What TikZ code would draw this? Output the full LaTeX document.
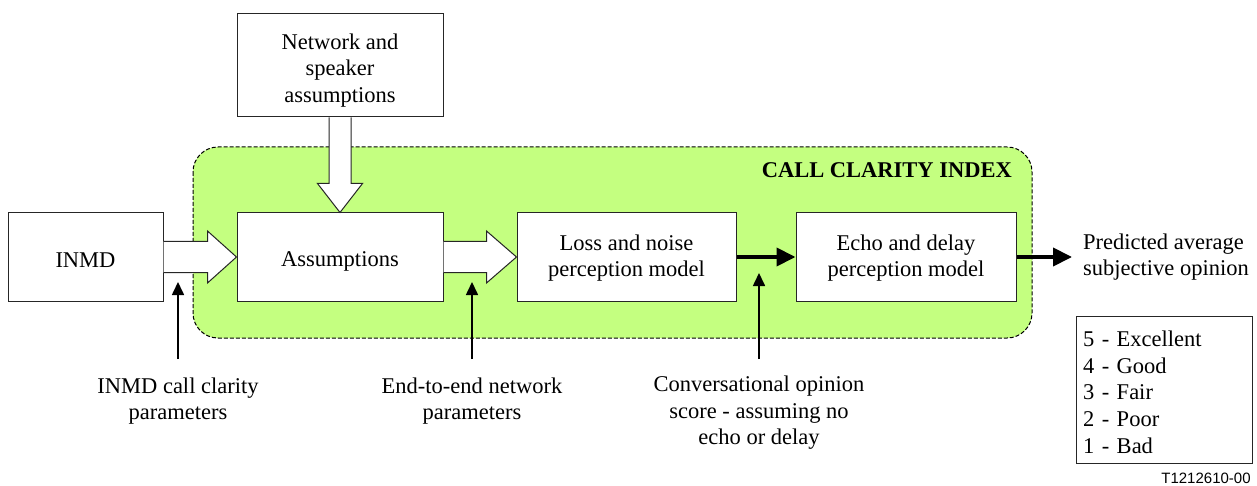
\documentclass[tikz,border=0pt]{standalone}
\usepackage{fontspec}
\setmainfont{Liberation Serif}
\setsansfont{Liberation Sans}
\usetikzlibrary{arrows.meta,calc}
\definecolor{ccigreen}{RGB}{196,255,128}
\newcommand{\lift}[1]{\rule{0pt}{#1pt}}
\begin{document}
\begin{tikzpicture}[x=1pt,y=-1pt,
  every node/.style={font=\fontsize{22.5}{26.5}\selectfont},
  box/.style={draw=black!85, line width=1pt, fill=white, inner sep=0pt, align=center},
  blockarrow/.style={draw=black!85, line width=1pt, fill=white, line join=miter},
  thickarrow/.style={line width=4pt, -{Triangle[length=19pt,width=18pt]}},
  thinarrow/.style={line width=1.6pt, -{Triangle[length=13pt,width=12pt]}},
  lbl/.style={align=center, inner sep=0pt}]
\useasboundingbox (0,0) rectangle (1257,486);

% region
\draw[fill=ccigreen, dash pattern=on 4pt off 2pt, line width=1pt, rounded corners=25pt]
  (193,147) rectangle (1032,338);
\node[anchor=base east, inner sep=0pt, font=\fontsize{22.5}{26.5}\selectfont\bfseries] (cci) at (1012,178) {CALL CLARITY INDEX};

% boxes
\node[box, minimum width=206pt, minimum height=103pt] (net) at (340,65.5) {\lift{25}Network and\\speaker\\assumptions};
\node[box, minimum width=206pt, minimum height=88pt] (assump) at (340,257) {\lift{23}Assumptions};
\node[box, minimum width=155pt, minimum height=88pt] (inmd) at (85.5,257) {\lift{21}INMD};
\node[box, minimum width=219pt, minimum height=88pt] (loss) at (626.5,257) {\lift{18}Loss and noise\\perception model};
\node[box, minimum width=220pt, minimum height=88pt] (echo) at (906,257) {\lift{18}Echo and delay\\perception model};

\node[anchor=west, inner xsep=11pt, inner ysep=0pt, align=left] (pred) at (1072,257) {Predicted average\\subjective opinion};

\node[draw=black!85, line width=1pt, minimum width=176pt, minimum height=147pt, text width=162pt,
  align=left, inner xsep=7pt, font=\fontsize{22.5}{26.7}\selectfont] (legend) at (1164,389.5)
  {\lift{21}5 - Excellent\\4 - Good\\3 - Fair\\2 - Poor\\1 - Bad};

\node[inner sep=0pt, font=\fontsize{15}{17}\sffamily] (code) at (1206,478) {T1212610-00};

% block arrows
\draw[blockarrow] ($(inmd.east)+(0,-15.5)$) -- ($(assump.west)+(-29,-15.5)$) -- ($(assump.west)+(-29,-26)$)
  -- (assump.west) -- ($(assump.west)+(-29,26)$) -- ($(assump.west)+(-29,15.5)$) -- ($(inmd.east)+(0,15.5)$);
\draw[blockarrow] ($(assump.east)+(0,-15.5)$) -- ($(loss.west)+(-30,-15.5)$) -- ($(loss.west)+(-30,-26)$)
  -- (loss.west) -- ($(loss.west)+(-30,26)$) -- ($(loss.west)+(-30,15.5)$) -- ($(assump.east)+(0,15.5)$);
\draw[blockarrow] ($(net.south)+(-11,0)$) -- ($(assump.north)+(-11,-29)$) -- ($(assump.north)+(-22.5,-29)$)
  -- (assump.north) -- ($(assump.north)+(22.5,-29)$) -- ($(assump.north)+(11,-29)$) -- ($(net.south)+(11,0)$);

% thick arrows
\draw[thickarrow] (loss.east) -- (echo.west);
\draw[thickarrow] (echo.east) -- (pred.west);

% labels and thin arrows
\node[lbl] (l1) at (178,401) {INMD call clarity\\parameters};
\node[lbl] (l2) at (472,401) {End-to-end network\\parameters};
\node[lbl] (l3) at (759,413) {Conversational opinion\\score - assuming no\\echo or delay};
\coordinate (s1) at (178,359); \coordinate (t1) at (178,282);
\coordinate (s2) at (472,359); \coordinate (t2) at (472,282);
\coordinate (s3) at (759,359); \coordinate (t3) at (759,273);
\draw[thinarrow] (s1) -- (t1);
\draw[thinarrow] (s2) -- (t2);
\draw[thinarrow] (s3) -- (t3);
\end{tikzpicture}
\end{document}
